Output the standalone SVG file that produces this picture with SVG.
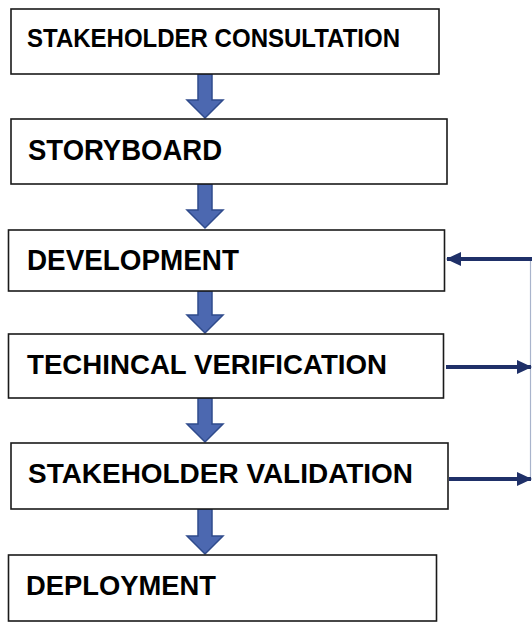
<svg xmlns="http://www.w3.org/2000/svg" width="532" height="623" viewBox="0 0 532 623">
<style>
.box{fill:#fff;stroke:#1a1a1a;stroke-width:1.6}
.lbl{font-family:"Liberation Sans",Arial,sans-serif;font-weight:bold;fill:#000}
.down{fill:#4C68B0;stroke:#2F4B8C;stroke-width:1.5;stroke-linejoin:miter}
.fb{stroke:#1F3068;stroke-width:4;fill:none}
.vline{stroke:#A9B4CC;stroke-width:1.2;fill:none}
</style>
<defs>
<marker id="ah" viewBox="0 0 15 14" refX="14" refY="7" markerWidth="15" markerHeight="14" markerUnits="userSpaceOnUse" orient="auto">
<path d="M0,0 L15,7 L0,14 z" fill="#1F3068"/>
</marker>
</defs>
<rect width="532" height="623" fill="#fff"/>
<g id="connectors">
<polygon class="down" points="198,74 212,74 212,100 223,100 205,118 187,100 198,100"/>
<polygon class="down" points="198,184 212,184 212,210 223,210 205,228 187,210 198,210"/>
<polygon class="down" points="198,291 212,291 212,315 223,315 205,333 187,315 198,315"/>
<polygon class="down" points="198,398 212,398 212,424 223,424 205,442 187,424 198,424"/>
<polygon class="down" points="198,509 212,509 212,536 223,536 205,554 187,536 198,536"/>
<line class="vline" x1="530.5" y1="259" x2="530.5" y2="480"/>
<line class="fb" x1="532" y1="259" x2="447" y2="259" marker-end="url(#ah)"/>
<line class="fb" x1="446" y1="367" x2="531" y2="367" marker-end="url(#ah)"/>
<line class="fb" x1="449" y1="479" x2="531" y2="479" marker-end="url(#ah)"/>
</g>
<g id="stakeholder-consultation">
<rect class="box" x="11" y="9" width="428" height="65"/>
<text class="lbl" x="27" y="47" font-size="26" textLength="373" lengthAdjust="spacingAndGlyphs">STAKEHOLDER CONSULTATION</text>
</g>
<g id="storyboard">
<rect class="box" x="11" y="119" width="436" height="65"/>
<text class="lbl" x="28" y="160" font-size="29" textLength="194" lengthAdjust="spacingAndGlyphs">STORYBOARD</text>
</g>
<g id="development">
<rect class="box" x="8.5" y="230" width="436" height="61"/>
<text class="lbl" x="27" y="270" font-size="29" textLength="212" lengthAdjust="spacingAndGlyphs">DEVELOPMENT</text>
</g>
<g id="technical-verification">
<rect class="box" x="8.5" y="334" width="435" height="64"/>
<text class="lbl" x="27" y="374" font-size="27" textLength="360" lengthAdjust="spacingAndGlyphs">TECHINCAL VERIFICATION</text>
</g>
<g id="stakeholder-validation">
<rect class="box" x="11" y="443" width="437" height="66"/>
<text class="lbl" x="28" y="483" font-size="27" textLength="385" lengthAdjust="spacingAndGlyphs">STAKEHOLDER VALIDATION</text>
</g>
<g id="deployment">
<rect class="box" x="8.5" y="555" width="428" height="66"/>
<text class="lbl" x="26" y="595" font-size="28" textLength="190" lengthAdjust="spacingAndGlyphs">DEPLOYMENT</text>
</g>
</svg>
